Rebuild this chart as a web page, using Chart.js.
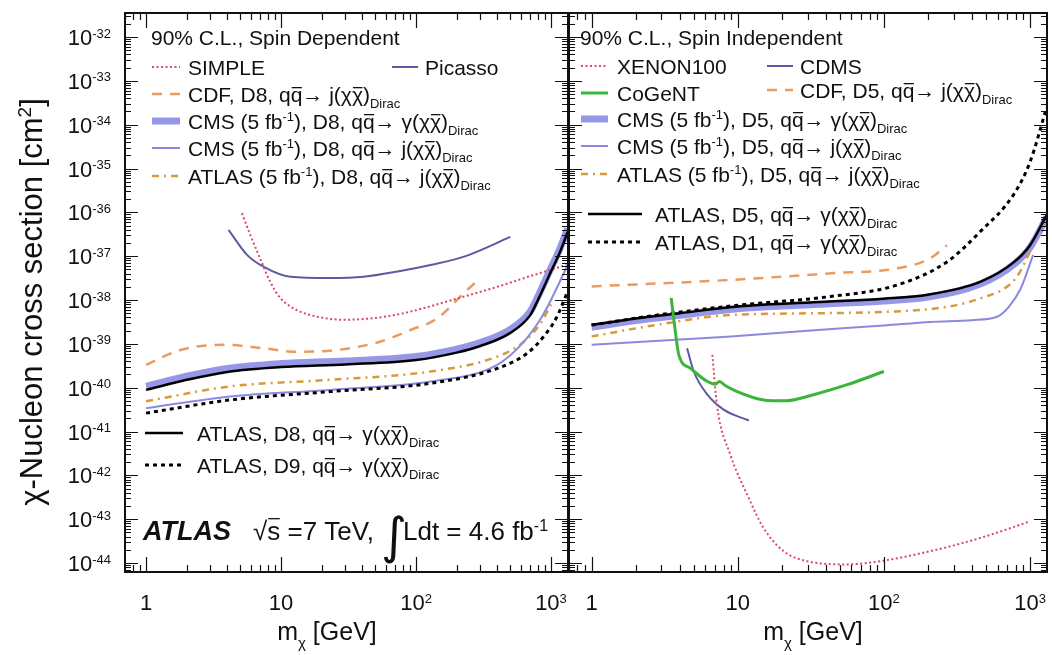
<!DOCTYPE html>
<html>
<head>
<meta charset="utf-8">
<title>Dark matter limits</title>
<script src="https://cdn.jsdelivr.net/npm/chart.js@4.4.1/dist/chart.umd.min.js"></script>
<style>
  body { margin: 0; background: #fff; }
  #wrap { position: relative; width: 1052px; height: 655px; overflow: hidden; background: #fff; }
  #wrap canvas { position: absolute; top: 0; }
</style>
</head>
<body>
<div id="wrap">
  <canvas id="sd" width="569" height="655" style="left:0;width:569px;height:655px"></canvas>
  <canvas id="si" width="492" height="655" style="left:560px;width:492px;height:655px"></canvas>
</div>
<script>
const FONT = '"Liberation Sans", Arial, Helvetica, sans-serif';

// axis ranges
const sdMassRange = [0.698, 1337];
const siMassRange = [0.706, 1306];
const xsecRange = [6.24e-45, 3.53e-32];
const yTickExp = [-32, -33, -34, -35, -36, -37, -38, -39, -40, -41, -42, -43, -44];
const xTickVals = [1, 10, 100, 1000];
const xTickExp = ['', '', '2', '3'];

// ---- spin dependent (left panel) ----
const simpleMass = [5.13, 5.92, 7.0, 8.3, 9.9, 13.1, 18.5, 29, 46, 73, 115, 227, 400, 710, 1300];
const simpleXsec = [9.55e-37, 3.02e-37, 8.9e-38, 2.63e-38, 1.1e-38, 5.9e-39, 4.17e-39, 3.55e-39, 3.8e-39, 4.68e-39, 6.6e-39, 1.2e-38, 2.0e-38, 3.55e-38, 6.3e-38];

const picassoMass = [4.08, 5.6, 7.4, 11.7, 23, 41, 73, 128, 227, 500];
const picassoXsec = [3.98e-37, 1.07e-37, 5.75e-38, 3.39e-38, 3.16e-38, 3.39e-38, 4.47e-38, 6.31e-38, 9.77e-38, 2.75e-37];

const cdfD8Mass = [1, 1.8, 3.75, 7.4, 13, 26, 54, 97, 130, 160, 225, 300];
const cdfD8Xsec = [3.31e-40, 7.24e-40, 9.55e-40, 7.94e-40, 6.61e-40, 7.24e-40, 1.12e-39, 2.24e-39, 3.16e-39, 5.0e-39, 1.41e-38, 3.16e-38];

const atlasD8Mass = [1, 2, 4, 10, 30, 100, 200, 300, 500, 700, 800, 1000, 1150, 1330];
const atlasD8Xsec = [8.91e-41, 1.51e-40, 2.29e-40, 2.95e-40, 3.39e-40, 4.27e-40, 6.31e-40, 8.91e-40, 1.78e-39, 4.47e-39, 1.0e-38, 4.47e-38, 1.12e-37, 3.55e-37];

const cmsGD8Mass = [1, 2, 4, 10, 30, 100, 200, 300, 500, 700, 800, 1000, 1150, 1330];
const cmsGD8Xsec = [1.07e-40, 1.82e-40, 2.75e-40, 3.55e-40, 4.07e-40, 5.13e-40, 7.59e-40, 1.07e-39, 2.14e-39, 5.37e-39, 1.2e-38, 5.37e-38, 1.35e-37, 4.27e-37];

const cmsJD8Mass = [1, 4.2, 23, 128, 400, 630, 850, 1000, 1330];
const cmsJD8Xsec = [3.39e-41, 6.31e-41, 8.91e-41, 1.38e-40, 3.31e-40, 1.12e-39, 3.98e-39, 1.0e-38, 6.31e-38];

const atlas5D8Mass = [1, 4.2, 23, 128, 400, 630, 850, 1000];
const atlas5D8Xsec = [4.9e-41, 1.07e-40, 1.51e-40, 2.34e-40, 5.13e-40, 1.12e-39, 3.16e-39, 7.94e-39];

const atlasD9Mass = [1, 4.2, 23, 128, 400, 670, 900, 1100, 1330];
const atlasD9Xsec = [2.63e-41, 5.25e-41, 8.13e-41, 1.26e-40, 2.75e-40, 6.17e-40, 1.58e-39, 3.98e-39, 1.58e-38];

// ---- spin independent (right panel) ----
const xenonMass = [6.7, 7.2, 8.9, 11.6, 15, 20.6, 29.8, 56, 94, 207, 456, 1000];
const xenonXsec = [5.62e-40, 4.07e-41, 2.95e-42, 3.63e-43, 6.31e-44, 1.86e-44, 1.1e-44, 9.3e-45, 1.1e-44, 1.86e-44, 3.72e-44, 8.91e-44];

const cdmsMass = [4.5, 5.0, 6.2, 8.0, 11.9];
const cdmsXsec = [7.94e-40, 2.34e-40, 6.92e-41, 3.16e-41, 1.78e-41];

const cogentMass = [3.5, 3.7, 3.95, 4.75, 6.2, 7.0, 7.5, 8.2, 9.9, 15, 21, 33, 56, 100];
const cogentXsec = [1.12e-38, 2.51e-39, 5.62e-40, 2.75e-40, 1.38e-40, 1.2e-40, 1.38e-40, 1.12e-40, 8.13e-41, 5.25e-41, 5.01e-41, 6.92e-41, 1.17e-40, 2.34e-40];

const cdfD5Mass = [1, 9, 43, 123, 207, 270];
const cdfD5Xsec = [2.04e-38, 2.88e-38, 4.07e-38, 5.25e-38, 8.91e-38, 1.78e-37];

const atlasD5Mass = [1, 2, 4, 10, 40, 100, 200, 460, 780, 1000, 1300];
const atlasD5Xsec = [2.69e-39, 3.8e-39, 5.01e-39, 7.08e-39, 9.12e-39, 1.07e-38, 1.32e-38, 2.63e-38, 7.41e-38, 1.78e-37, 8.71e-37];

const cmsGD5Mass = [1, 2, 4, 10, 40, 100, 200, 460, 780, 1000, 1300];
const cmsGD5Xsec = [2.4e-39, 3.39e-39, 4.47e-39, 6.31e-39, 8.13e-39, 9.55e-39, 1.17e-38, 2.34e-38, 6.61e-38, 1.58e-37, 7.76e-37];

const cmsJD5Mass = [1, 9, 30, 100, 209, 400, 600, 720, 860, 1050];
const cmsJD5Xsec = [9.55e-40, 1.48e-39, 2.0e-39, 2.63e-39, 3.16e-39, 3.47e-39, 4.2e-39, 7.2e-39, 1.78e-38, 1.07e-37];

const atlas5D5Mass = [1, 3, 9, 120, 460, 800, 1000];
const atlas5D5Xsec = [1.48e-39, 2.82e-39, 4.57e-39, 5.5e-39, 1.1e-38, 3.16e-38, 1.26e-37];

const atlasD1Mass = [1, 3, 10, 43, 123, 270, 456, 770, 1000, 1300];
const atlasD1Xsec = [2.69e-39, 4.68e-39, 7.59e-39, 1.2e-38, 2.19e-38, 7.41e-38, 3.63e-37, 2.51e-36, 1.41e-35, 2.51e-34];

// line styles
const RED = '#d94a63', ORANGE = '#ec9a5e', LAV = '#8a8ade', SLATE = '#5b5ba3', GREEN = '#3bb43b', GOLD = '#d99a3c';

function pts(ms, vs) { return ms.map((m, i) => ({ x: m, y: vs[i] })); }
function ds(label, ms, vs, style, order) {
  return Object.assign({ label, data: pts(ms, vs), fill: false, pointRadius: 0, order: order || 0,
    borderCapStyle: 'butt', cubicInterpolationMode: 'monotone' }, style);
}
const sRed = { borderColor: RED, borderWidth: 2, borderDash: [2, 2.5] };
const sOrange = { borderColor: ORANGE, borderWidth: 2.5, borderDash: [10, 8] };
const sThick = { borderColor: 'rgba(125,125,225,0.8)', borderWidth: 7 };
const sThin = { borderColor: LAV, borderWidth: 2 };
const sDashDot = { borderColor: GOLD, borderWidth: 2.5, borderDash: [7, 5, 2, 5] };
const sBlack = { borderColor: '#000', borderWidth: 2.5 };
const sDotted = { borderColor: '#000', borderWidth: 3, borderDash: [4, 4] };
const sSlate = { borderColor: SLATE, borderWidth: 2 };
const sGreen = { borderColor: GREEN, borderWidth: 3 };

const sdSets = [
  ds('SIMPLE', simpleMass, simpleXsec, sRed, 1),
  ds('Picasso', picassoMass, picassoXsec, sSlate, 1),
  ds('CDF D8', cdfD8Mass, cdfD8Xsec, sOrange, 1),
  ds('CMS g D8', cmsGD8Mass, cmsGD8Xsec, sThick, 5),
  ds('CMS j D8', cmsJD8Mass, cmsJD8Xsec, sThin, 2),
  ds('ATLAS5 D8', atlas5D8Mass, atlas5D8Xsec, sDashDot, 2),
  ds('ATLAS D8', atlasD8Mass, atlasD8Xsec, sBlack, 0),
  ds('ATLAS D9', atlasD9Mass, atlasD9Xsec, sDotted, 0)
];
const siSets = [
  ds('XENON100', xenonMass, xenonXsec, sRed, 1),
  ds('CDMS', cdmsMass, cdmsXsec, sSlate, 1),
  ds('CoGeNT', cogentMass, cogentXsec, sGreen, 0),
  ds('CDF D5', cdfD5Mass, cdfD5Xsec, sOrange, 1),
  ds('CMS g D5', cmsGD5Mass, cmsGD5Xsec, sThick, 5),
  ds('CMS j D5', cmsJD5Mass, cmsJD5Xsec, sThin, 2),
  ds('ATLAS5 D5', atlas5D5Mass, atlas5D5Xsec, sDashDot, 2),
  ds('ATLAS D5', atlasD5Mass, atlasD5Xsec, sBlack, 0),
  ds('ATLAS D1', atlasD1Mass, atlasD1Xsec, sDotted, 0)
];

// rich text helpers: parts = [[text, kind]], kind '' | 'sub' | 'sup' | 'bar'
function partFont(kind, size, style) {
  const s = (kind === 'sub' || kind === 'sup') ? Math.round(size * 0.6) : size;
  return (style ? style + ' ' : '') + s + 'px ' + FONT;
}
function richWidth(ctx, parts, size, style) {
  let w = 0;
  for (const [t, k] of parts) { ctx.font = partFont(k, size, style); w += ctx.measureText(t).width; }
  return w;
}
function rich(ctx, parts, x, y, size, style) {
  let cx = x;
  for (const [t, k, h] of parts) {
    ctx.font = partFont(k, size, style);
    let dy = 0;
    if (k === 'sub') dy = size * 0.33;
    if (k === 'sup') dy = -size * 0.34;
    ctx.fillText(t, cx, y + dy);
    const w = ctx.measureText(t).width;
    if (k === 'bar') {
      const by = y - size * (h || 0.66);
      ctx.beginPath();
      ctx.lineWidth = 1.3;
      ctx.moveTo(cx + 1, by);
      ctx.lineTo(cx + w - 0.5, by);
      ctx.stroke();
    }
    cx += w;
  }
  return cx;
}
function proc(head, fin) {
  return head.concat([['q', 'bar'], ['→ ' + fin + '(χ'], ['χ', 'bar'], [')'], ['Dirac', 'sub']]);
}
const cmsHead = d => [['CMS (5 fb'], ['-1', 'sup'], ['), ' + d + ', q']];
const atl5Head = d => [['ATLAS (5 fb'], ['-1', 'sup'], ['), ' + d + ', q']];

const sdLegend = [
  { y: 37, tx: 151, t: [['90% C.L., Spin Dependent']] },
  { y: 67, tx: 188, x0: 152, x1: 180, ds: 'SIMPLE', t: [['SIMPLE']] },
  { y: 67, tx: 425, x0: 392, x1: 418, ds: 'Picasso', t: [['Picasso']] },
  { y: 94, tx: 188, x0: 152, x1: 180, ds: 'CDF D8', t: proc([['CDF, D8, q']], 'j') },
  { y: 121, tx: 188, x0: 152, x1: 180, ds: 'CMS g D8', t: proc(cmsHead('D8'), 'γ') },
  { y: 148, tx: 188, x0: 152, x1: 180, ds: 'CMS j D8', t: proc(cmsHead('D8'), 'j') },
  { y: 176, tx: 188, x0: 152, x1: 180, ds: 'ATLAS5 D8', t: proc(atl5Head('D8'), 'j') },
  { y: 433, tx: 197, x0: 145, x1: 183, ds: 'ATLAS D8', t: proc([['ATLAS, D8, q']], 'γ') },
  { y: 465, tx: 197, x0: 145, x1: 183, ds: 'ATLAS D9', t: proc([['ATLAS, D9, q']], 'γ') }
];
const siLegend = [
  { y: 37, tx: 580, t: [['90% C.L., Spin Independent']] },
  { y: 66, tx: 617, x0: 581, x1: 608, ds: 'XENON100', t: [['XENON100']] },
  { y: 66, tx: 800, x0: 767, x1: 793, ds: 'CDMS', t: [['CDMS']] },
  { y: 93, tx: 617, x0: 581, x1: 608, ds: 'CoGeNT', t: [['CoGeNT']] },
  { y: 90, tx: 800, x0: 767, x1: 793, ds: 'CDF D5', t: proc([['CDF, D5, q']], 'j') },
  { y: 119, tx: 617, x0: 581, x1: 608, ds: 'CMS g D5', t: proc(cmsHead('D5'), 'γ') },
  { y: 146, tx: 617, x0: 581, x1: 608, ds: 'CMS j D5', t: proc(cmsHead('D5'), 'j') },
  { y: 174, tx: 617, x0: 581, x1: 608, ds: 'ATLAS5 D5', t: proc(atl5Head('D5'), 'j') },
  { y: 214, tx: 655, x0: 588, x1: 642, ds: 'ATLAS D5', t: proc([['ATLAS, D5, q']], 'γ') },
  { y: 242, tx: 655, x0: 588, x1: 642, ds: 'ATLAS D1', t: proc([['ATLAS, D1, q']], 'γ') }
];

function drawSample(ctx, d, x0, x1, y) {
  ctx.save();
  ctx.strokeStyle = d.borderColor;
  ctx.lineWidth = d.borderWidth;
  ctx.setLineDash(d.borderDash || []);
  ctx.beginPath();
  ctx.moveTo(x0, y);
  ctx.lineTo(x1, y);
  ctx.stroke();
  ctx.restore();
}

// frame, inward ticks, tick labels, titles and legend
function decoPlugin(ox, cfg) {
  return {
    id: 'deco',
    afterDatasetsDraw(chart) {
      const { ctx, chartArea: a, scales: { x, y } } = chart;
      ctx.save();
      ctx.strokeStyle = '#111';
      ctx.lineWidth = 1.2;
      ctx.beginPath();
      for (let d = -1; d <= 3; d++) {
        for (let k = 1; k <= 9; k++) {
          const v = k * Math.pow(10, d);
          if (v < x.min || v > x.max) continue;
          const px = Math.round(x.getPixelForValue(v)) + 0.5;
          const len = k === 1 ? 15 : 7;
          ctx.moveTo(px, a.bottom); ctx.lineTo(px, a.bottom - len);
          ctx.moveTo(px, a.top); ctx.lineTo(px, a.top + len);
        }
      }
      for (let d = -45; d <= -32; d++) {
        for (let k = 1; k <= 9; k++) {
          const v = k * Math.pow(10, d);
          if (v < y.min || v > y.max) continue;
          const py = Math.round(y.getPixelForValue(v)) + 0.5;
          const len = k === 1 ? 13 : 6;
          ctx.moveTo(a.left, py); ctx.lineTo(a.left + len, py);
          ctx.moveTo(a.right, py); ctx.lineTo(a.right - len, py);
        }
      }
      ctx.stroke();
      ctx.lineWidth = 2;
      ctx.strokeRect(a.left, a.top, a.right - a.left, a.bottom - a.top);

      // tick labels
      ctx.fillStyle = '#111';
      ctx.strokeStyle = '#111';
      ctx.textBaseline = 'alphabetic';
      ctx.textAlign = 'left';
      xTickVals.forEach((v, i) => {
        const parts = xTickExp[i] ? [['10'], [xTickExp[i], 'sup']] : [[String(v)]];
        const w = richWidth(ctx, parts, 22);
        rich(ctx, parts, x.getPixelForValue(v) - w / 2, 610, 22);
      });
      if (cfg.yLabels) {
        yTickExp.forEach(n => {
          const parts = [['10'], [String(n), 'sup']];
          const w = richWidth(ctx, parts, 22);
          rich(ctx, parts, 111 - w, y.getPixelForValue(Math.pow(10, n)) + 8, 22);
        });
        ctx.save();
        const tparts = [['χ-Nucleon cross section [cm'], ['2', 'sup'], [']']];
        const tw = richWidth(ctx, tparts, 31);
        ctx.translate(42, 302);
        ctx.rotate(-Math.PI / 2);
        rich(ctx, tparts, -tw / 2, 0, 31);
        ctx.restore();
      }
      // x title
      const xt = [['m'], ['χ', 'sub'], [' [GeV]']];
      const xw = richWidth(ctx, xt, 25);
      rich(ctx, xt, cfg.xTitleX - ox - xw / 2, 640, 25);

      // legend
      ctx.translate(-ox, 0);
      for (const e of cfg.legend) {
        if (e.ds) {
          const d = chart.data.datasets.find(s => s.label === e.ds);
          drawSample(ctx, d, e.x0, e.x1, e.y);
        }
        ctx.fillStyle = '#111';
        ctx.strokeStyle = '#111';
        rich(ctx, e.t, e.tx, e.y + 7.5, 21);
      }
      if (cfg.atlasTag) {
        ctx.font = 'bold italic 27px ' + FONT;
        ctx.fillText('ATLAS', 143, 540);
        rich(ctx, [['√'], ['s', 'bar', 0.82], [' =7 TeV,']], 253, 540, 26);
        ctx.font = '50px "DejaVu Sans", ' + FONT;
        ctx.fillText('∫', 381, 553);
        rich(ctx, [['Ldt = 4.6 fb'], ['-1', 'sup']], 403, 540, 26);
      }
      ctx.restore();
    }
  };
}

function makeChart(id, ox, xr, yWidth, padRight, sets, cfg) {
  return new Chart(document.getElementById(id), {
    type: 'line',
    data: { datasets: sets },
    options: {
      responsive: false,
      animation: false,
      devicePixelRatio: 1,
      layout: { padding: { top: 13, right: padRight, left: 0, bottom: 0 } },
      plugins: { legend: { display: false }, tooltip: { enabled: false } },
      scales: {
        x: {
          type: 'logarithmic', min: xr[0], max: xr[1],
          ticks: { display: false }, grid: { display: false }, border: { display: false },
          afterFit: s => { s.height = 83; }
        },
        y: {
          type: 'logarithmic', min: xsecRange[0], max: xsecRange[1],
          ticks: { display: false }, grid: { display: false }, border: { display: false },
          afterFit: s => { s.width = yWidth; }
        }
      }
    },
    plugins: [decoPlugin(ox, cfg)]
  });
}

makeChart('sd', 0, sdMassRange, 125, 1, sdSets,
  { yLabels: true, xTitleX: 327, legend: sdLegend, atlasTag: true });
makeChart('si', 560, siMassRange, 9, 5, siSets,
  { yLabels: false, xTitleX: 813, legend: siLegend, atlasTag: false });
</script>
</body>
</html>
